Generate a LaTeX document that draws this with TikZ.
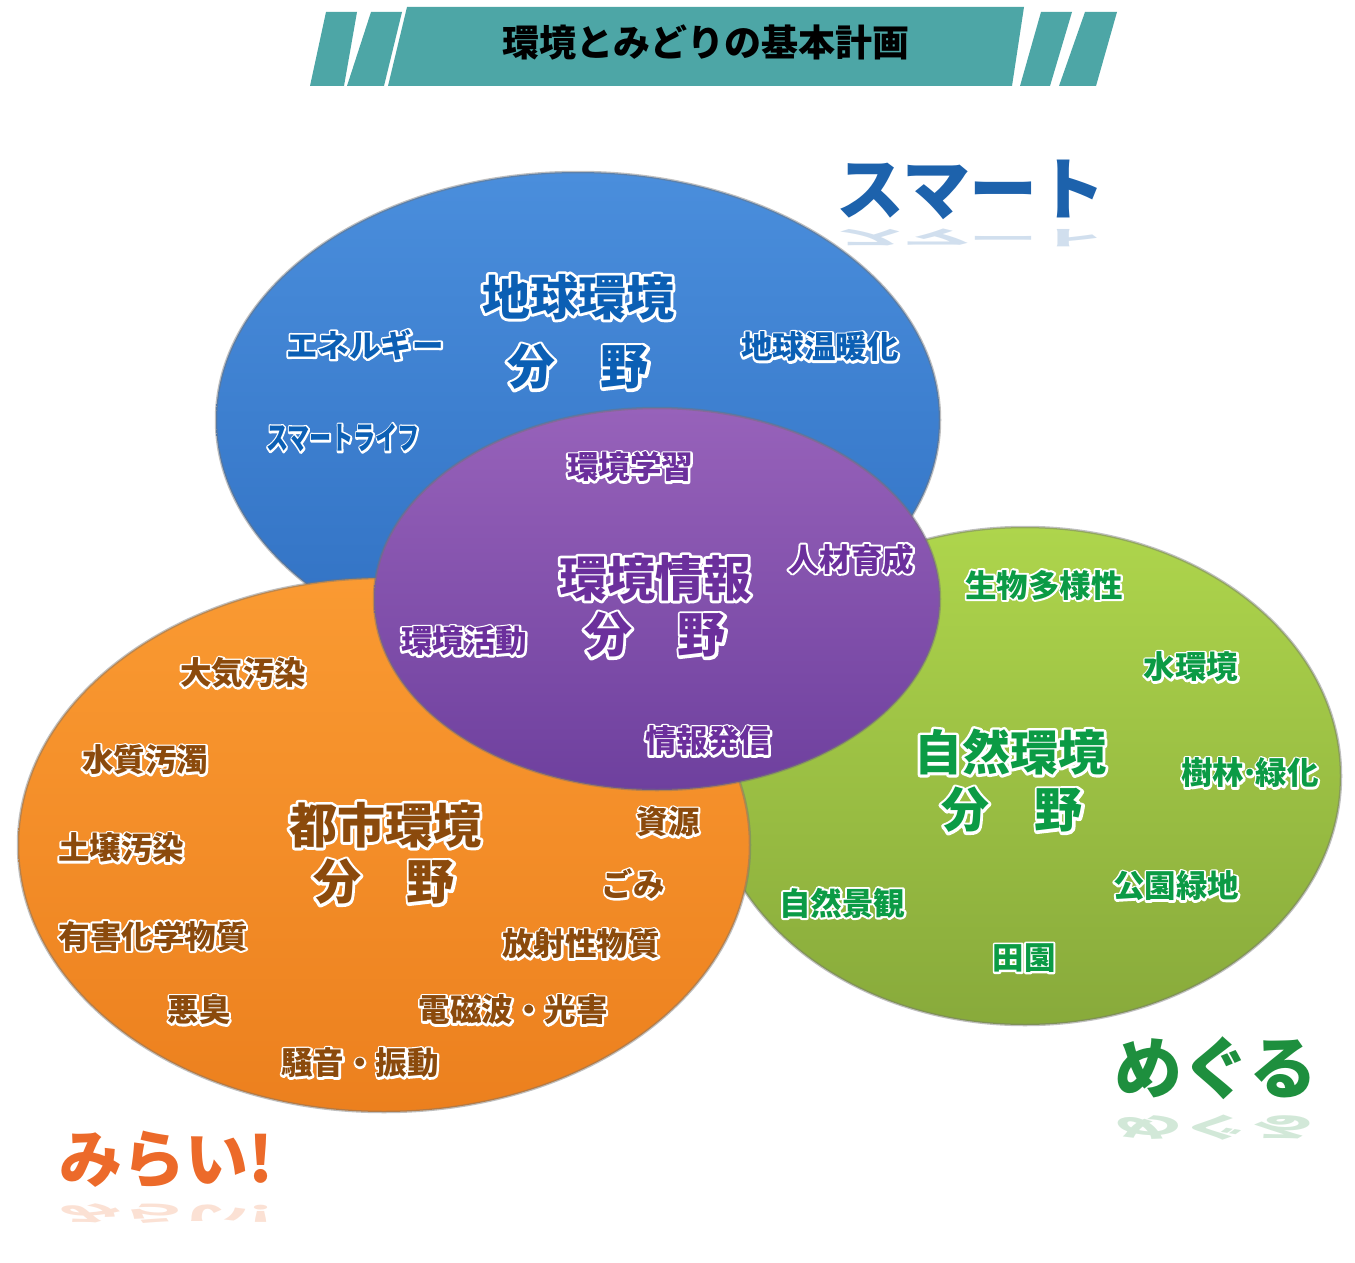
\documentclass[tikz,border=0pt]{standalone}
\usepackage{fontspec}
\usetikzlibrary{shapes.geometric}
\newfontfamily\jp{Noto Sans CJK JP}
\definecolor{blueA}{HTML}{4A8EDC}
\definecolor{blueB}{HTML}{3070C2}
\definecolor{purA}{HTML}{9762BA}
\definecolor{purB}{HTML}{6E409E}
\definecolor{orA}{HTML}{FA9A32}
\definecolor{orB}{HTML}{EC801E}
\definecolor{grA}{HTML}{AED54C}
\definecolor{grB}{HTML}{88AA3B}
\definecolor{bannerteal}{HTML}{4DA6A6}
\definecolor{bluetxt}{HTML}{0B5FB4}
\definecolor{purtxt}{HTML}{6B2F9C}
\definecolor{ortxt}{HTML}{8B4A0C}
\definecolor{grtxt}{HTML}{0B9B45}
\definecolor{smartc}{HTML}{1D62AC}
\definecolor{meguruc}{HTML}{1E8F3E}
\definecolor{miraic}{HTML}{EC6A2A}
\tikzset{
  x=1pt, y=-1pt,
  lbl/.style={font=\jp\bfseries\fontsize{31.5}{31.5}\selectfont, inner sep=0pt},
  biglbl/.style={font=\jp\bfseries\fontsize{48}{48}\selectfont, inner sep=0pt},
  corner/.style={font=\jp\bfseries\fontsize{68}{68}\selectfont, inner sep=0pt},
  circ/.style={ellipse, inner sep=0pt, draw=black!55, draw opacity=0.45, line width=2.5pt},
  stripe/.style={fill=bannerteal},
}
% white outline: a stroked copy (text render mode 1) under the filled text
\newcommand{\outl}[2]{\leavevmode\rlap{\special{pdf:literal direct 1 Tr #1 w 1 j 1 G}#2\special{pdf:literal direct 0 Tr}}#2}
\newcommand{\wl}[1]{\outl{4}{#1}}
\newcommand{\wbig}[1]{\outl{5.5}{#1}}
\begin{document}
\begin{tikzpicture}
\useasboundingbox[fill=white] (0,0) rectangle (1355,1263);
% banner
\fill[stripe] (326,12) -- (357,12) -- (344,86) -- (310,86) -- cycle;
\fill[stripe] (371,12) -- (402,12) -- (384,86) -- (347,86) -- cycle;
\fill[stripe] (407,7) -- (1024,7) -- (1012,86) -- (388,86) -- cycle;
\fill[stripe] (1041,12) -- (1072,12) -- (1050,86) -- (1020,86) -- cycle;
\fill[stripe] (1085,12) -- (1117,12) -- (1096,86) -- (1059,86) -- cycle;
\node[font=\jp\bfseries\fontsize{37}{37}\selectfont, inner sep=0pt] (title) at (706,42) {環境とみどりの基本計画};
% circles
\node[circ, top color=grA, bottom color=grB, minimum width=632, minimum height=498] (green) at (1025,776) {};
\node[circ, top color=blueA, bottom color=blueB, minimum width=724, minimum height=496] (blue) at (578,420) {};
\node[circ, top color=orA, bottom color=orB, minimum width=732, minimum height=534] (orange) at (384,845) {};
\node[circ, top color=purA, bottom color=purB, minimum width=566, minimum height=382] (purple) at (657,599) {};
% blue labels
\begin{scope}[text=bluetxt]
\node[biglbl] (b0) at (578,297) {\wbig{地球環境}};
\node[biglbl] (b1) at (578,367) {\wbig{分\hspace{46pt}野}};
\node[lbl] (b2) at (365,345) {\wl{エネルギー}};
\node[lbl] (b3) at (820,347) {\wl{地球温暖化}};
\node[lbl] (b4) at (343,438) {\scalebox{0.7}[1]{\wl{スマートライフ}}};
\end{scope}
% purple labels
\begin{scope}[text=purtxt]
\node[lbl] (p1) at (630,467) {\wl{環境学習}};
\node[lbl] (p2) at (851,559) {\wl{人材育成}};
\node[biglbl] (p0) at (655,578) {\wbig{環境情報}};
\node[biglbl] (p00) at (655,635) {\wbig{分\hspace{46pt}野}};
\node[lbl] (p3) at (464,641) {\wl{環境活動}};
\node[lbl] (p4) at (708,741) {\wl{情報発信}};
\end{scope}
% orange labels
\begin{scope}[text=ortxt]
\node[lbl] (o1) at (243,673) {\wl{大気汚染}};
\node[lbl] (o2) at (145,760) {\wl{水質汚濁}};
\node[lbl] (o3) at (121,848) {\wl{土壌汚染}};
\node[lbl] (o4) at (153,936) {\wl{有害化学物質}};
\node[lbl] (o5) at (199,1010) {\wl{悪臭}};
\node[lbl] (o6) at (360,1063) {\wl{騒音・振動}};
\node[lbl] (o7) at (513,1010) {\wl{電磁波・光害}};
\node[lbl] (o8) at (581,944) {\wl{放射性物質}};
\node[lbl] (o9) at (633,884) {\wl{ごみ}};
\node[lbl] (o10) at (668,822) {\wl{資源}};
\node[biglbl] (o0) at (385,825) {\wbig{都市環境}};
\node[biglbl] (o00) at (384,882) {\wbig{分\hspace{46pt}野}};
\end{scope}
% green labels
\begin{scope}[text=grtxt]
\node[lbl] (g1) at (1044,585) {\wl{生物多様性}};
\node[lbl] (g2) at (1191,667) {\wl{水環境}};
\node[lbl] (g3) at (1250,773) {\wl{樹林\hspace{-4pt}·\hspace{-4pt}緑化}};
\node[biglbl] (g0) at (1010,752) {\wbig{自然環境}};
\node[biglbl] (g00) at (1012,810) {\wbig{分\hspace{46pt}野}};
\node[lbl] (g4) at (1176,886) {\wl{公園緑地}};
\node[lbl] (g5) at (842,903) {\wl{自然景観}};
\node[lbl] (g6) at (1024,958) {\wl{田園}};
\end{scope}
% corner words
\node[corner, text=smartc] (smart) at (971,190) {スマート};
\node[corner, text=smartc, opacity=0.2] (smartr) at (971,238) {\scalebox{1}[-0.3]{スマート}};
\node[corner, text=meguruc] (meguru) at (1216,1068) {めぐる};
\node[corner, text=meguruc, opacity=0.2] (megurur) at (1216,1128) {\scalebox{1}[-0.4]{めぐる}};
\node[corner, text=miraic, font=\jp\bfseries\fontsize{63}{63}\selectfont] (mirai) at (167,1160) {みらい!};
\node[corner, text=miraic, opacity=0.2, font=\jp\bfseries\fontsize{63}{63}\selectfont] (mirair) at (167,1213) {\scalebox{1}[-0.35]{みらい!}};
\end{tikzpicture}
\end{document}
